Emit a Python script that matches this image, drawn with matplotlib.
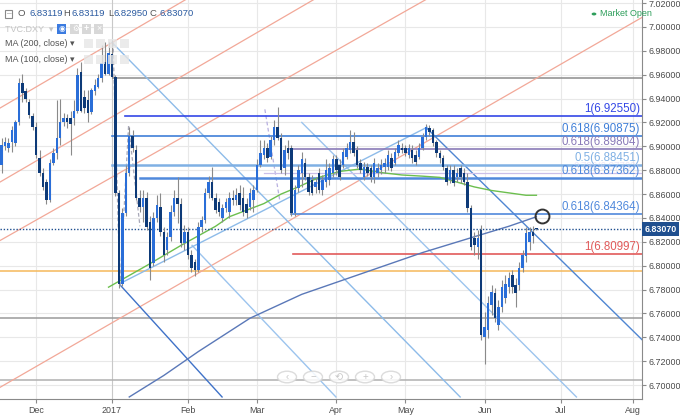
import matplotlib
matplotlib.use("Agg")
import matplotlib.pyplot as plt
import matplotlib.transforms as mtransforms
from matplotlib.patches import Circle, Rectangle
import numpy as np

plt.rcParams['font.family'] = ['Liberation Sans', 'DejaVu Sans']

################################################################################
# daily candles, bar 0 = first session of 2017 (weekday index)
start = -32
opens = [6.884, 6.900, 6.899, 6.904, 6.903, 6.920, 6.953, 6.946, 6.937, 6.925,
         6.916, 6.890, 6.878, 6.870, 6.855, 6.886, 6.894, 6.907, 6.920, 6.924,
         6.924, 6.924, 6.930, 6.962, 6.941, 6.939, 6.929, 6.946, 6.950, 6.957,
         6.971, 6.961, 6.977, 6.958, 6.861, 6.785, 6.844, 6.878, 6.909, 6.897,
         6.857, 6.849, 6.857, 6.837, 6.802, 6.840, 6.849, 6.828, 6.813, 6.824,
         6.845, 6.857, 6.852, 6.819, 6.828, 6.809, 6.803, 6.796, 6.832, 6.838,
         6.861, 6.870, 6.857, 6.853, 6.840, 6.848, 6.845, 6.857, 6.855, 6.861,
         6.857, 6.852, 6.849, 6.855, 6.863, 6.884, 6.893, 6.899, 6.891, 6.905,
         6.916, 6.907, 6.882, 6.899, 6.899, 6.844, 6.865, 6.878, 6.886, 6.874,
         6.872, 6.866, 6.878, 6.863, 6.870, 6.872, 6.878, 6.889, 6.884, 6.884,
         6.891, 6.897, 6.904, 6.897, 6.886, 6.874, 6.883, 6.882, 6.874, 6.878,
         6.880, 6.883, 6.883, 6.890, 6.886, 6.894, 6.899, 6.899, 6.893, 6.897,
         6.893, 6.891, 6.899, 6.908, 6.915, 6.914, 6.904, 6.894, 6.890, 6.882,
         6.872, 6.880, 6.874, 6.882, 6.878, 6.870, 6.848, 6.823, 6.816, 6.830,
         6.740, 6.746, 6.767, 6.777, 6.750, 6.765, 6.773, 6.782, 6.792, 6.784,
         6.784, 6.798, 6.808, 6.820, 6.828, 6.83119]
highs = [6.907, 6.908, 6.907, 6.917, 6.922, 6.957, 6.961, 6.949, 6.940, 6.928,
         6.920, 6.897, 6.882, 6.873, 6.889, 6.899, 6.939, 6.940, 6.928, 6.927,
         6.930, 6.939, 6.966, 6.971, 6.947, 6.947, 6.949, 6.956, 6.961, 6.985,
         6.987, 6.987, 6.989, 6.960, 6.863, 6.848, 6.884, 6.916, 6.914, 6.901,
         6.863, 6.863, 6.862, 6.842, 6.845, 6.859, 6.861, 6.832, 6.828, 6.851,
         6.863, 6.874, 6.857, 6.834, 6.832, 6.813, 6.806, 6.837, 6.842, 6.865,
         6.875, 6.883, 6.861, 6.857, 6.852, 6.857, 6.862, 6.863, 6.865, 6.868,
         6.866, 6.857, 6.865, 6.868, 6.889, 6.905, 6.905, 6.903, 6.909, 6.922,
         6.933, 6.911, 6.901, 6.905, 6.901, 6.868, 6.884, 6.895, 6.890, 6.878,
         6.876, 6.874, 6.882, 6.876, 6.889, 6.886, 6.893, 6.893, 6.889, 6.899,
         6.903, 6.914, 6.912, 6.900, 6.889, 6.887, 6.886, 6.884, 6.890, 6.886,
         6.889, 6.890, 6.897, 6.894, 6.899, 6.905, 6.903, 6.901, 6.902, 6.901,
         6.897, 6.903, 6.911, 6.919, 6.918, 6.915, 6.905, 6.897, 6.893, 6.884,
         6.884, 6.884, 6.882, 6.884, 6.882, 6.878, 6.851, 6.828, 6.830, 6.834,
         6.761, 6.775, 6.784, 6.781, 6.771, 6.788, 6.792, 6.795, 6.796, 6.790,
         6.803, 6.813, 6.832, 6.832, 6.833, 6.83119]
lows = [6.878, 6.897, 6.895, 6.895, 6.900, 6.918, 6.937, 6.937, 6.924, 6.914,
        6.890, 6.875, 6.863, 6.852, 6.853, 6.884, 6.889, 6.901, 6.917, 6.915,
        6.893, 6.918, 6.928, 6.929, 6.928, 6.920, 6.927, 6.943, 6.949, 6.954,
        6.960, 6.960, 6.957, 6.858, 6.781, 6.783, 6.842, 6.875, 6.895, 6.855,
        6.845, 6.837, 6.830, 6.788, 6.800, 6.837, 6.825, 6.803, 6.809, 6.821,
        6.842, 6.836, 6.816, 6.813, 6.806, 6.795, 6.791, 6.795, 6.828, 6.836,
        6.857, 6.855, 6.844, 6.842, 6.837, 6.845, 6.840, 6.851, 6.851, 6.847,
        6.842, 6.840, 6.847, 6.845, 6.862, 6.883, 6.889, 6.887, 6.889, 6.901,
        6.905, 6.878, 6.876, 6.889, 6.842, 6.842, 6.862, 6.866, 6.872, 6.859,
        6.859, 6.861, 6.861, 6.859, 6.866, 6.868, 6.874, 6.876, 6.872, 6.882,
        6.889, 6.894, 6.892, 6.882, 6.878, 6.872, 6.875, 6.870, 6.869, 6.874,
        6.877, 6.878, 6.880, 6.879, 6.884, 6.892, 6.894, 6.892, 6.890, 6.886,
        6.884, 6.889, 6.897, 6.905, 6.909, 6.900, 6.891, 6.886, 6.880, 6.868,
        6.869, 6.867, 6.870, 6.869, 6.868, 6.845, 6.813, 6.809, 6.806, 6.738,
        6.718, 6.739, 6.759, 6.753, 6.746, 6.761, 6.769, 6.777, 6.777, 6.765,
        6.780, 6.795, 6.803, 6.813, 6.819, 6.8295]
closes = [6.901, 6.904, 6.903, 6.914, 6.920, 6.953, 6.945, 6.940, 6.926, 6.916,
          6.893, 6.878, 6.866, 6.855, 6.886, 6.894, 6.907, 6.920, 6.924, 6.920,
          6.919, 6.930, 6.960, 6.930, 6.932, 6.928, 6.947, 6.951, 6.957, 6.970,
          6.961, 6.978, 6.958, 6.861, 6.785, 6.844, 6.878, 6.909, 6.899, 6.857,
          6.849, 6.857, 6.832, 6.798, 6.840, 6.851, 6.828, 6.809, 6.824, 6.845,
          6.857, 6.852, 6.819, 6.828, 6.809, 6.798, 6.796, 6.832, 6.838, 6.861,
          6.870, 6.857, 6.847, 6.845, 6.848, 6.853, 6.857, 6.855, 6.859, 6.851,
          6.845, 6.844, 6.861, 6.863, 6.884, 6.894, 6.899, 6.890, 6.905, 6.916,
          6.907, 6.880, 6.897, 6.894, 6.844, 6.863, 6.880, 6.889, 6.874, 6.862,
          6.861, 6.870, 6.863, 6.872, 6.880, 6.882, 6.889, 6.880, 6.874, 6.895,
          6.899, 6.904, 6.894, 6.884, 6.880, 6.883, 6.878, 6.874, 6.886, 6.882,
          6.884, 6.886, 6.893, 6.882, 6.895, 6.901, 6.897, 6.894, 6.899, 6.890,
          6.887, 6.899, 6.908, 6.916, 6.912, 6.903, 6.894, 6.890, 6.883, 6.870,
          6.880, 6.869, 6.878, 6.874, 6.870, 6.848, 6.816, 6.817, 6.823, 6.742,
          6.749, 6.769, 6.778, 6.756, 6.765, 6.782, 6.785, 6.790, 6.782, 6.777,
          6.798, 6.809, 6.827, 6.828, 6.825, 6.8307]

# month ticks = bar index of first session in month
month_pos = [-22, 0, 22, 42, 65, 85, 108, 130, 151]
month_lab = ['Dec', '2017', 'Feb', 'Mar', 'Apr', 'May', 'Jun', 'Jul', 'Aug']
price_ticks = [6.70, 6.72, 6.74, 6.76, 6.78, 6.80, 6.82, 6.84, 6.86, 6.88,
               6.90, 6.92, 6.94, 6.96, 6.98, 7.00, 7.02]

# moving averages
ma100_pos = [-1, 10, 20, 30, 34, 44, 49, 54, 60, 66, 72, 78, 84, 90, 95, 100,
             105, 110, 115, 120, 123]
ma100_val = [6.782, 6.800, 6.817, 6.833, 6.841, 6.852, 6.860, 6.866, 6.874,
             6.879, 6.881, 6.878, 6.876, 6.875, 6.874, 6.870, 6.866, 6.863,
             6.861, 6.859, 6.859]
ma200_pos = [5, 15, 25, 40, 55, 75, 90, 107, 115, 123]
ma200_val = [6.690, 6.708, 6.728, 6.756, 6.776, 6.796, 6.811, 6.826, 6.833, 6.841]

# fibonacci levels (value, label, first bar, colour)
fib_val = [6.92550, 6.90875, 6.89804, 6.88451, 6.87362, 6.84364, 6.80997]
fib_lab = ['1(6.92550)', '0.618(6.90875)', '0.618(6.89804)', '0.5(6.88451)',
           '0.618(6.87362)', '0.618(6.84364)', '1(6.80997)']
fib_from = [3.8, 0, 51.6, 0, 8, 52, 52.5]
fib_col = ['#3347e6', '#3f7fd8', '#8a7bb8', '#7fb0e4', '#5089dc', '#5089dc', '#e15a5a']
fib_lw = [1.2, 1.2, 1.2, 1.8, 1.8, 1.2, 1.2]

# other horizontal lines
hl_val = [6.9575, 6.7957, 6.7561, 6.7040]
hl_from = [0.3, -33, -33, -33]
hl_col = ['#8c8c8c', '#f5b85a', '#9a9a9a', '#b0b0b0']

# trend lines (bar, price) -> (bar, price)
tl_blue = [((0, 6.987), (100.9, 6.690), '#8dbbe9', 1.0),
           ((2.3, 6.784), (31.9, 6.690), '#3f72c8', 1.0),
           ((91.3, 6.915), (153.6, 6.738), '#4f86d2', 1.0),
           ((55.0, 6.920), (134.6, 6.690), '#9cc4ee', 1.0),
           ((23.2, 6.817), (64.9, 6.690), '#9cc4ee', 1.0),
           ((2.3, 6.785), (91.3, 6.916), '#8dbbe9', 1.0)]
tl_salmon = [((-32.5, 6.932), (21.4, 7.023)),
             ((-32.5, 6.870), (58.5, 7.023)),
             ((-32.5, 6.821), (91.0, 7.023)),
             ((-32.5, 6.698), (153.6, 7.008))]

last_price = 6.83070
y_lo, y_hi = 6.6883, 7.0226
x_lo, x_hi = -32.46, 153.6

################################################################################
W, H = 680, 415
fig = plt.figure(figsize=(W / 100, H / 100), dpi=100)
ax = fig.add_axes([0, 16 / H, 642 / W, 399 / H])
ax.set_xlim(x_lo, x_hi)
ax.set_ylim(y_lo, y_hi)

# grid
for p in price_ticks:
    ax.axhline(p, color='#e8e8e8', lw=0.8, zorder=0)
for m in month_pos:
    ax.axvline(m, color='#c8c8c8' if m == 0 else '#e8e8e8', lw=0.8, zorder=0)

# horizontal lines
for v, x0, col in zip(hl_val, hl_from, hl_col):
    ax.plot([x0, x_hi], [v, v], color=col, lw=1.1, zorder=1)

# salmon channel
for (a, b) in tl_salmon:
    ax.plot([a[0], b[0]], [a[1], b[1]], color='#f2a898', lw=0.9, zorder=1)

# blue trend lines
for a, b, col, lw in tl_blue:
    ax.plot([a[0], b[0]], [a[1], b[1]], color=col, lw=lw, zorder=1)

# dashed swing lines
ax.plot([0.3, 2.3], [6.987, 6.783], color='#a8a8b8', lw=0.9, ls=(0, (3, 2)), zorder=1)
ax.plot([2.3, 4.8], [6.783, 6.917], color='#a8a8b8', lw=0.9, ls=(0, (3, 2)), zorder=1)
ax.plot([4.8, 8.1], [6.917, 6.833], color='#a8a8b8', lw=0.9, ls=(0, (3, 2)), zorder=1)
ax.plot([44.3, 48.6], [6.931, 6.855], color='#b8b0e0', lw=0.9, ls=(0, (3, 2)), zorder=1)

# fib levels + labels
for v, lab, x0, col, lw in zip(fib_val, fib_lab, fib_from, fib_col, fib_lw):
    ax.plot([x0, x_hi], [v, v], color=col, lw=lw, zorder=2)
    ax.text(x_hi - 0.6, v + 0.0009, lab, color=col, fontsize=8.3,
            ha='right', va='bottom', zorder=5)
# faint, partly hidden label sitting between the 0.5 and 0.618 labels
ax.plot([44, x_hi], [6.8776, 6.8776], color='#cbbfe8', lw=0.9, zorder=2)
ax.text(x_hi - 0.6, 6.8782, '0.786(6.87763)', color='#ddd5f2',
        fontsize=7.0, ha='right', va='bottom', alpha=0.55, zorder=4)

# moving averages
ax.plot(ma100_pos, ma100_val, color='#6cbf4e', lw=1.0, zorder=3)
ax.plot(ma200_pos, ma200_val, color='#5a78b8', lw=1.0, zorder=3)

# candles
idx = np.arange(start, start + len(opens))
o = np.array(opens); c = np.array(closes)
h = np.array(highs); l = np.array(lows)
up = c >= o
ax.vlines(idx, l, h, color='#8a8a8a', lw=0.8, zorder=4)
body_lo = np.minimum(o, c)
body_h = np.maximum(np.abs(c - o), 0.0007)
ax.bar(idx[up], body_h[up], bottom=body_lo[up], width=0.72,
       color='#2a6ed8', linewidth=0, zorder=5)
ax.bar(idx[~up], body_h[~up], bottom=body_lo[~up], width=0.72,
       color='#0d3a78', linewidth=0, zorder=5)

# current price
ax.axhline(last_price, color='#1f4f8f', lw=1.0, ls=(0, (1, 1.3)), zorder=3)
ax.plot([124.6], [6.8416], marker='o', ms=10, mfc='none', mec='#333333',
        mew=1.4, zorder=6)

# axes styling
for s in ['left', 'top']:
    ax.spines[s].set_visible(False)
ax.spines['right'].set_color('#8a8a8a')
ax.spines['bottom'].set_color('#8a8a8a')
ax.yaxis.tick_right()
ax.set_yticks(price_ticks)
ax.set_yticklabels(['%.5f' % p for p in price_ticks])
ax.set_xticks(month_pos)
ax.set_xticklabels(month_lab)
ax.tick_params(axis='both', colors='#8a8a8a', labelcolor='#4a4a4a',
               labelsize=6.4, length=3, width=0.8, pad=2)

trans = mtransforms.blended_transform_factory(ax.transAxes, ax.transData)
ax.text(1.004, last_price, '6.83070', transform=trans, color='white',
        fontsize=6.4, fontweight='bold', ha='left', va='center', zorder=10,
        clip_on=False,
        bbox=dict(boxstyle='square,pad=0.25', fc='#1f4f8f', ec='none'))

################################################################################
# header texts (figure pixel coords)
def ftxt(x, y, s, **kw):
    fig.text(x / W, 1 - y / H, s, va='center', **kw)

fig.patches.append(Rectangle((5 / W, 1 - 18 / H), 7 / W, 8 / H, transform=fig.transFigure,
                             fc='white', ec='#888888', lw=0.8))
ftxt(7, 14, '–', color='#888888', fontsize=6)
hdr = [(18, 'O', '#555555'), (29, '6.83119', '#2a5aa0'), (63, 'H', '#555555'),
       (72, '6.83119', '#2a5aa0'), (108, 'L', '#555555'), (114, '6.82950', '#2a5aa0'),
       (149, 'C', '#555555'), (159, '6.83070', '#2a5aa0')]
for x, s, col in hdr:
    ftxt(x, 14, s, color=col, fontsize=6.8)

ftxt(5, 29, 'TVC:DXY  \u25be', color='#c4c4c4', fontsize=6.5)
fig.patches.append(Rectangle((57 / W, 1 - 34 / H), 9 / W, 10 / H, transform=fig.transFigure,
                             fc='#3b7be0', ec='none'))
ftxt(58.5, 29, '\u25c9', color='white', fontsize=5.5)
for xb in [70, 82, 94]:
    fig.patches.append(Rectangle((xb / W, 1 - 34 / H), 9 / W, 10 / H,
                                 transform=fig.transFigure, fc='#d8d8d8', ec='none'))
ftxt(72, 29, '\u2699', color='white', fontsize=5.5)
ftxt(84, 29, '+', color='white', fontsize=6.5, fontweight='bold')
ftxt(96, 29, '\u00d7', color='white', fontsize=6.5)

ftxt(5, 44, 'MA (200, close) \u25be', color='#555555', fontsize=6.5)
ftxt(5, 60, 'MA (100, close) \u25be', color='#555555', fontsize=6.5)
for yb in [44, 60]:
    for xb in [84, 96, 108, 120]:
        fig.patches.append(Rectangle((xb / W, 1 - (yb + 4.5) / H), 9 / W, 9 / H,
                                     transform=fig.transFigure, fc='#e6e6e6',
                                     ec='none', alpha=0.8))

fig.patches.append(Circle((594 / W, 1 - 14 / H), 0.0035, transform=fig.transFigure,
                          fc='#2e9e5b', ec='none'))
ftxt(600, 14, 'Market Open', color='#2e9e5b', fontsize=6.5)

# navigation buttons
for xb, sym in zip([287, 313, 339, 365, 391], ['\u2039', '\u2212', '\u27f2', '+', '\u203a']):
    fig.patches.append(Circle((xb / W, 1 - 377 / H), 9.5 / W, transform=fig.transFigure,
                              fc='white', ec='#d6d6d6', lw=1.0, alpha=0.85))
    ftxt(xb, 377, sym, color='#c8c8c8', fontsize=7, ha='center')

fig.savefig('out.png', dpi=100)
